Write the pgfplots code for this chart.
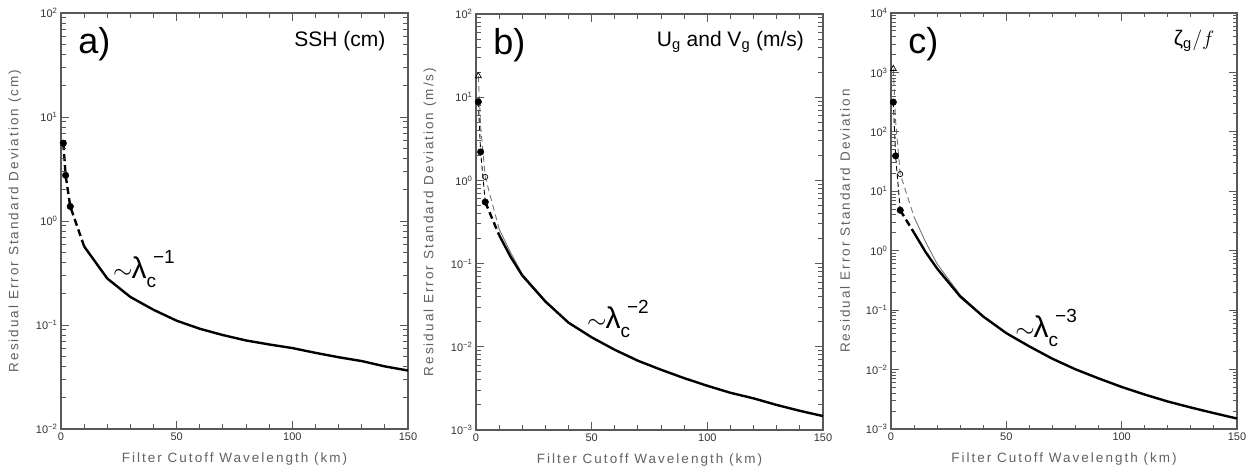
\documentclass[border=0pt]{standalone}
\usepackage{fontspec}
\setmainfont{Liberation Sans}
\newfontfamily\lblfont{Liberation Sans}[LetterSpace=15]
\usepackage{pgfplots}
\pgfplotsset{compat=1.18}
\definecolor{framegray}{gray}{0.35}
\definecolor{thingray}{gray}{0.45}
\definecolor{labgray}{gray}{0.38}
\tikzset{tk/.style={framegray, line width=1pt}}
\pgfplotsset{
  panel/.style={
    scale only axis, width=347pt, height=416pt,
    xmin=0, xmax=150, clip=false,
    xtick={0,50,100,150}, xticklabels={0,50,100,150},
    tick align=inside,
    xtick style={draw=none}, ytick style={draw=none},
    axis line style={framegray, line width=1.1pt},
    ticklabel style={font=\fontsize{11}{13}\selectfont, text=black!80},
    xlabel={Filter Cutoff Wavelength (km)},
    xlabel style={at={(axis description cs:0.5,-0.072)}, anchor=center,
      font=\lblfont\fontsize{13.5}{16}\selectfont, text=labgray},
    ylabel style={at={(axis description cs:-0.1326,0.5)}, anchor=center,
      font=\lblfont\fontsize{13.5}{16}\selectfont, text=labgray},
  },
  thick line/.style={black, line width=2.4pt},
  thick dash/.style={black, line width=2.4pt, dash pattern=on 7pt off 4pt},
  thin dash/.style={black, line width=0.9pt, dash pattern=on 5pt off 3pt},
  gray dash/.style={thingray, line width=0.9pt, dash pattern=on 6pt off 4pt},
  gray line/.style={thingray, line width=0.9pt},
  dot/.style={mark=*, mark size=3.3pt, mark options={solid, fill=black, draw=black}},
}
% tick helpers: all endpoints in axis cs
% #1 ymin, #2 ymax, #3 minor factor, #4 major factor
\newcommand{\xticks}[4]{%
  \pgfplotsinvokeforeach{10,20,30,40,60,70,80,90,110,120,130,140}{%
    \draw[tk] (axis cs:##1,#1) -- (axis cs:##1,#1*#3);
    \draw[tk] (axis cs:##1,#2) -- (axis cs:##1,#2/#3);}%
  \pgfplotsinvokeforeach{50,100}{%
    \draw[tk] (axis cs:##1,#1) -- (axis cs:##1,#1*#4);
    \draw[tk] (axis cs:##1,#2) -- (axis cs:##1,#2/#4);}}
\newcommand{\yticksmaj}[1]{%
  \pgfplotsinvokeforeach{#1}{%
    \draw[tk] (axis cs:0,##1) -- (axis cs:3.46,##1);
    \draw[tk] (axis cs:150,##1) -- (axis cs:146.54,##1);}}
\newcommand{\yticksmin}[1]{%
  \pgfplotsinvokeforeach{#1}{%
    \draw[tk] (axis cs:0,##1) -- (axis cs:1.95,##1);
    \draw[tk] (axis cs:150,##1) -- (axis cs:148.05,##1);}}
\newcommand{\lam}[1]{{\fontsize{30}{30}\selectfont$\sim$\kern-1pt λ\raisebox{-9pt}{\fontsize{19}{19}\selectfont c}\kern-3pt\raisebox{15pt}{\fontsize{19}{19}\selectfont #1}}}
\begin{document}
\begin{tikzpicture}
% ---------------- panel a ----------------
\begin{axis}[ymode=log, panel, at={(61pt,43pt)}, anchor=south west,
  ymin=1e-2, ymax=1e2,
  ytick={1e-2,1e-1,1,10,100},
  yticklabels={10\textsuperscript{−2},10\textsuperscript{−1},10\textsuperscript{0},10\textsuperscript{1},10\textsuperscript{2}},
  ylabel={Residual Error Standard Deviation (cm)}]
\addplot[thick dash] coordinates {(1,5.6) (2,2.75) (4,1.38) (10,0.57)};
\addplot[thick line] coordinates {(10,0.57) (20,0.28) (30,0.186) (40,0.14) (50,0.11) (60,0.092) (70,0.080) (80,0.071) (90,0.065) (100,0.060) (110,0.054) (120,0.049) (130,0.045) (140,0.040) (150,0.0365)};
\addplot[only marks, dot] coordinates {(1,5.6) (2,2.75) (4,1.38)};
\xticks{0.01}{100}{1.105}{1.194}
\yticksmaj{0.1,1,10}
\yticksmin{0.02,0.03,0.04,0.05,0.06,0.07,0.08,0.09,0.2,0.3,0.4,0.5,0.6,0.7,0.8,0.9,2,3,4,5,6,7,8,9,20,30,40,50,60,70,80,90}
\node[anchor=west, font=\fontsize{36}{36}\selectfont] at (rel axis cs:0.04,0.925) {a)};
\node[anchor=east, font=\fontsize{21}{24}\selectfont] at (rel axis cs:0.945,0.933) {SSH (cm)};
\node[anchor=base west, inner sep=0pt] at (axis cs:22.5,0.283) {\lam{−1}};
\end{axis}
% ---------------- panel b ----------------
\begin{axis}[ymode=log, panel, at={(476pt,42pt)}, anchor=south west,
  ymin=1e-3, ymax=1e2,
  ytick={1e-3,1e-2,1e-1,1,10,100},
  yticklabels={10\textsuperscript{−3},10\textsuperscript{−2},10\textsuperscript{−1},10\textsuperscript{0},10\textsuperscript{1},10\textsuperscript{2}},
  ylabel={Residual Error Standard Deviation (m/s)}]
\addplot[gray dash] coordinates {(1,18) (2,4.5) (4,1.1) (10,0.26)};
\addplot[gray line] coordinates {(10,0.26) (15,0.135) (20,0.075) (30,0.036) (40,0.0196)};
\addplot[thin dash] coordinates {(1,8.8) (2,2.2) (4,0.55)};
\addplot[thick dash] coordinates {(4,0.55) (10,0.22)};
\addplot[thick line] coordinates {(10,0.22) (15,0.12) (20,0.072) (30,0.035) (40,0.0195) (50,0.013) (60,0.0092) (70,0.0068) (80,0.0053) (90,0.0042) (100,0.0034) (110,0.0028) (120,0.0024) (130,0.0020) (140,0.0017) (150,0.00147)};
\addplot[only marks, dot] coordinates {(1,8.8) (2,2.2) (4,0.55)};
\addplot[only marks, mark=triangle, mark size=3.5pt, mark options={solid, black, line width=0.7pt, fill=white}] coordinates {(1,18)};
\addplot[only marks, mark=o, mark size=2.6pt, mark options={solid, black, line width=0.7pt, fill=white}] coordinates {(4,1.1)};
\xticks{0.001}{100}{1.133}{1.248}
\yticksmaj{0.01,0.1,1,10}
\yticksmin{0.002,0.003,0.004,0.005,0.006,0.007,0.008,0.009,0.02,0.03,0.04,0.05,0.06,0.07,0.08,0.09,0.2,0.3,0.4,0.5,0.6,0.7,0.8,0.9,2,3,4,5,6,7,8,9,20,30,40,50,60,70,80,90}
\node[anchor=west, font=\fontsize{36}{36}\selectfont] at (rel axis cs:0.04,0.925) {b)};
\node[anchor=east, font=\fontsize{21}{24}\selectfont] at (rel axis cs:0.955,0.933) {U\textsubscript{g} and V\textsubscript{g} (m/s)};
\node[anchor=base west, inner sep=0pt] at (axis cs:48,0.0168) {\lam{−2}};
\end{axis}
% ---------------- panel c ----------------
\begin{axis}[ymode=log, panel, width=346pt, at={(891pt,43pt)}, anchor=south west,
  ymin=1e-3, ymax=1e4,
  ytick={1e-3,1e-2,1e-1,1,10,100,1000,10000},
  yticklabels={10\textsuperscript{−3},10\textsuperscript{−2},10\textsuperscript{−1},10\textsuperscript{0},10\textsuperscript{1},10\textsuperscript{2},10\textsuperscript{3},10\textsuperscript{4}},
  ylabel={Residual Error Standard Deviation}]
\addplot[gray dash] coordinates {(1,1150) (2,150) (4,19.5) (10,3.7)};
\addplot[gray line] coordinates {(10,3.7) (15,1.4) (20,0.6) (30,0.18) (40,0.08)};
\addplot[thin dash] coordinates {(1,316) (2,39.5) (4,4.8)};
\addplot[thick dash] coordinates {(4,4.8) (10,2.0)};
\addplot[thick line] coordinates {(10,2.0) (15,0.95) (20,0.5) (30,0.17) (40,0.078) (50,0.041) (60,0.0245) (70,0.0152) (80,0.0101) (90,0.0071) (100,0.0051) (110,0.0038) (120,0.0029) (130,0.0023) (140,0.00185) (150,0.0015)};
\addplot[only marks, dot] coordinates {(1,316) (2,39.5) (4,4.8)};
\addplot[only marks, mark=triangle, mark size=3.5pt, mark options={solid, black, line width=0.7pt, fill=white}] coordinates {(1,1150)};
\addplot[only marks, mark=o, mark size=2.6pt, mark options={solid, black, line width=0.7pt, fill=white}] coordinates {(4,19.5)};
\xticks{0.001}{10000}{1.19}{1.363}
\yticksmaj{0.01,0.1,1,10,100,1000}
\yticksmin{0.002,0.003,0.004,0.005,0.006,0.007,0.008,0.009,0.02,0.03,0.04,0.05,0.06,0.07,0.08,0.09,0.2,0.3,0.4,0.5,0.6,0.7,0.8,0.9,2,3,4,5,6,7,8,9,20,30,40,50,60,70,80,90,200,300,400,500,600,700,800,900,2000,3000,4000,5000,6000,7000,8000,9000}
\node[anchor=west, font=\fontsize{36}{36}\selectfont] at (rel axis cs:0.04,0.925) {c)};
\node[anchor=east, font=\fontsize{21}{24}\selectfont] at (rel axis cs:0.945,0.933) {ζ\textsubscript{g}\kern1pt$/f$};
\node[anchor=base west, inner sep=0pt] at (axis cs:53.8,0.034) {\lam{−3}};
\end{axis}
\pgfresetboundingbox
\useasboundingbox (0,0) rectangle (1256pt,472pt);
\end{tikzpicture}
\end{document}
